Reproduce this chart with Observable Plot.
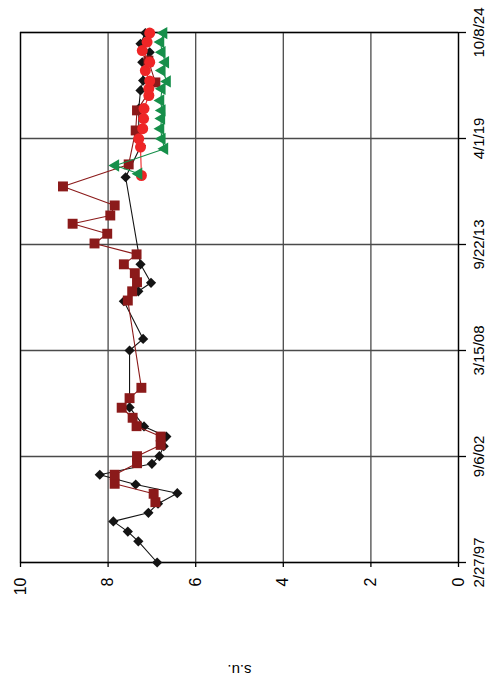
<!DOCTYPE html>
<html><head><meta charset="utf-8">
<script src="https://cdn.jsdelivr.net/npm/d3@7"></script>
<script src="https://cdn.jsdelivr.net/npm/@observablehq/plot@0.6"></script>
<style>
html,body{margin:0;padding:0;background:#fff;}
#chart{width:488px;height:683px;overflow:hidden;}
</style></head><body><div id="chart"></div>
<script>
// Axis ticks and label
const valueTicks = [0, 2, 4, 6, 8, 10];
const dateTicks = ["1997-02-27", "2002-09-06", "2008-03-15", "2013-09-22", "2019-04-01", "2024-10-08"];
const axisLabel = "s.u.";

// Series 1: black diamonds
const blackDates = ["1997-02-27","1998-04-05","1998-10-08","1999-04-20","1999-10-01","2000-03-22","2000-10-08","2001-03-22","2001-09-24","2002-04-20","2002-09-12","2003-03-22","2003-09-20","2004-04-01","2005-03-28","2008-03-15","2008-10-22","2010-10-08","2011-04-15","2011-09-24","2012-09-10","2017-03-25","2018-11-15","2019-09-01","2020-10-20","2021-10-01","2022-04-08","2023-03-22","2023-09-27","2024-03-08","2024-09-27"];
const blackValues = [6.88,7.31,7.55,7.88,7.08,6.86,6.42,7.37,8.19,7.00,6.83,6.73,6.67,7.18,7.51,7.51,7.20,7.64,7.31,7.02,7.26,7.60,7.25,7.30,7.30,7.26,7.20,7.22,7.05,7.26,7.15];

// Series 2: dark red squares
const darkRedDates = ["2000-04-20","2000-09-27","2001-04-05","2001-09-24","2002-05-01","2002-09-12","2003-04-15","2003-09-20","2004-04-05","2004-09-12","2005-03-22","2005-09-20","2006-04-05","2010-10-22","2011-04-15","2011-10-05","2012-03-25","2012-09-10","2013-03-18","2013-10-12","2014-04-15","2014-10-22","2015-03-28","2015-10-05","2016-10-01","2017-11-24","2019-09-01","2020-09-17","2022-03-03","2023-04-22"];
const darkRedValues = [6.92,6.96,7.85,7.85,7.34,7.34,6.80,6.80,7.35,7.44,7.69,7.51,7.24,7.55,7.45,7.34,7.39,7.64,7.35,8.31,8.02,8.81,7.95,7.85,9.03,7.53,7.37,7.34,6.92,7.08];

// Series 3: red circles
const redDates = ["2017-04-27","2018-10-20","2019-03-25","2019-10-05","2020-04-15","2020-10-22","2021-06-27","2021-11-03","2022-04-01","2022-10-15","2023-03-22","2023-10-30","2024-04-08","2024-09-27"];
const redValues = [7.24,7.26,7.30,7.21,7.19,7.18,7.07,7.07,7.05,7.15,7.05,7.22,7.11,7.05];

// Series 4: green triangles
const greenDates = ["2017-05-30","2017-11-03","2018-09-17","2019-03-25","2019-10-05","2020-04-15","2020-09-17","2021-03-25","2021-11-03","2022-03-22","2022-10-15","2023-03-22","2023-09-27","2024-04-08","2024-09-27"];
const greenValues = [7.30,7.83,6.71,6.77,6.80,6.78,6.77,6.80,6.77,6.65,6.77,6.69,6.77,6.80,6.73];

const parse = s => new Date(s + "T00:00:00Z");
const toRows = (dates, values) => dates.map((d, i) => ({date: parse(d), value: values[i]}));
const black = toRows(blackDates, blackValues);
const darkRed = toRows(darkRedDates, darkRedValues);
const red = toRows(redDates, redValues);
const green = toRows(greenDates, greenValues);

// triangle symbol pointing left (chart is drawn turned a quarter-turn)
const triangleLeft = {
  draw(context, size) {
    const y = -Math.sqrt(size / (Math.sqrt(3) * 3));
    context.moveTo(2 * y, 0);
    context.lineTo(-y, Math.sqrt(3) * y);
    context.lineTo(-y, -Math.sqrt(3) * y);
    context.closePath();
  }
};

const C_BLACK = "#141414", C_DARKRED = "#8b1a1a", C_RED = "#ee2526", C_GREEN = "#168f4a";

const chart = Plot.plot({
  width: 488,
  height: 683,
  marginLeft: 20,
  marginRight: 30,
  marginTop: 32,
  marginBottom: 121,
  style: {fontFamily: "'Liberation Sans', Arial, sans-serif", background: "#fff", color: "#000"},
  x: {domain: [10, 0]},
  y: {type: "utc", domain: [parse(dateTicks[0]), parse(dateTicks[dateTicks.length - 1])]},
  marks: [
    Plot.gridX(valueTicks, {stroke: "#4a4a4a", strokeOpacity: 1, strokeWidth: 1.3}),
    Plot.gridY(dateTicks.map(parse), {stroke: "#4a4a4a", strokeOpacity: 1, strokeWidth: 1.3}),
    Plot.frame({stroke: "#000", strokeWidth: 1.3}),
    Plot.axisX(valueTicks, {anchor: "bottom", tickSize: 5, tickPadding: 10, tickRotate: -90, textAnchor: "end", lineAnchor: "middle", fontSize: 16, label: null, strokeWidth: 1.3}),
    Plot.axisY(dateTicks.map(parse), {anchor: "right", tickSize: 7, tickPadding: 18, tickRotate: -90, textAnchor: "middle", lineAnchor: "bottom", fontSize: 15, label: null, strokeWidth: 1.3, tickFormat: d3.utcFormat("%-m/%-d/%y")}),
    Plot.text([{v: 5, t: axisLabel}], {x: "v", text: "t", frameAnchor: "bottom", dy: 102, rotate: 180, fontSize: 15}),
    Plot.line(black, {x: "value", y: "date", stroke: C_BLACK, strokeWidth: 1.1}),
    Plot.dot(black, {x: "value", y: "date", symbol: "diamond2", r: 4.6, fill: C_BLACK, stroke: "none"}),
    Plot.line(darkRed, {x: "value", y: "date", stroke: C_DARKRED, strokeWidth: 1.1}),
    Plot.dot(darkRed, {x: "value", y: "date", symbol: "square", r: 5.6, fill: C_DARKRED, stroke: "none"}),
    Plot.line(red, {x: "value", y: "date", stroke: C_RED, strokeWidth: 1.1}),
    Plot.dot(red, {x: "value", y: "date", symbol: "circle", r: 5.5, fill: C_RED, stroke: "none"}),
    Plot.line(green, {x: "value", y: "date", stroke: C_GREEN, strokeWidth: 1.1}),
    Plot.dot(green, {x: "value", y: "date", symbol: triangleLeft, r: 4.6, fill: C_GREEN, stroke: "none"})
  ]
});
document.getElementById("chart").appendChild(chart);
</script>
</body></html>
